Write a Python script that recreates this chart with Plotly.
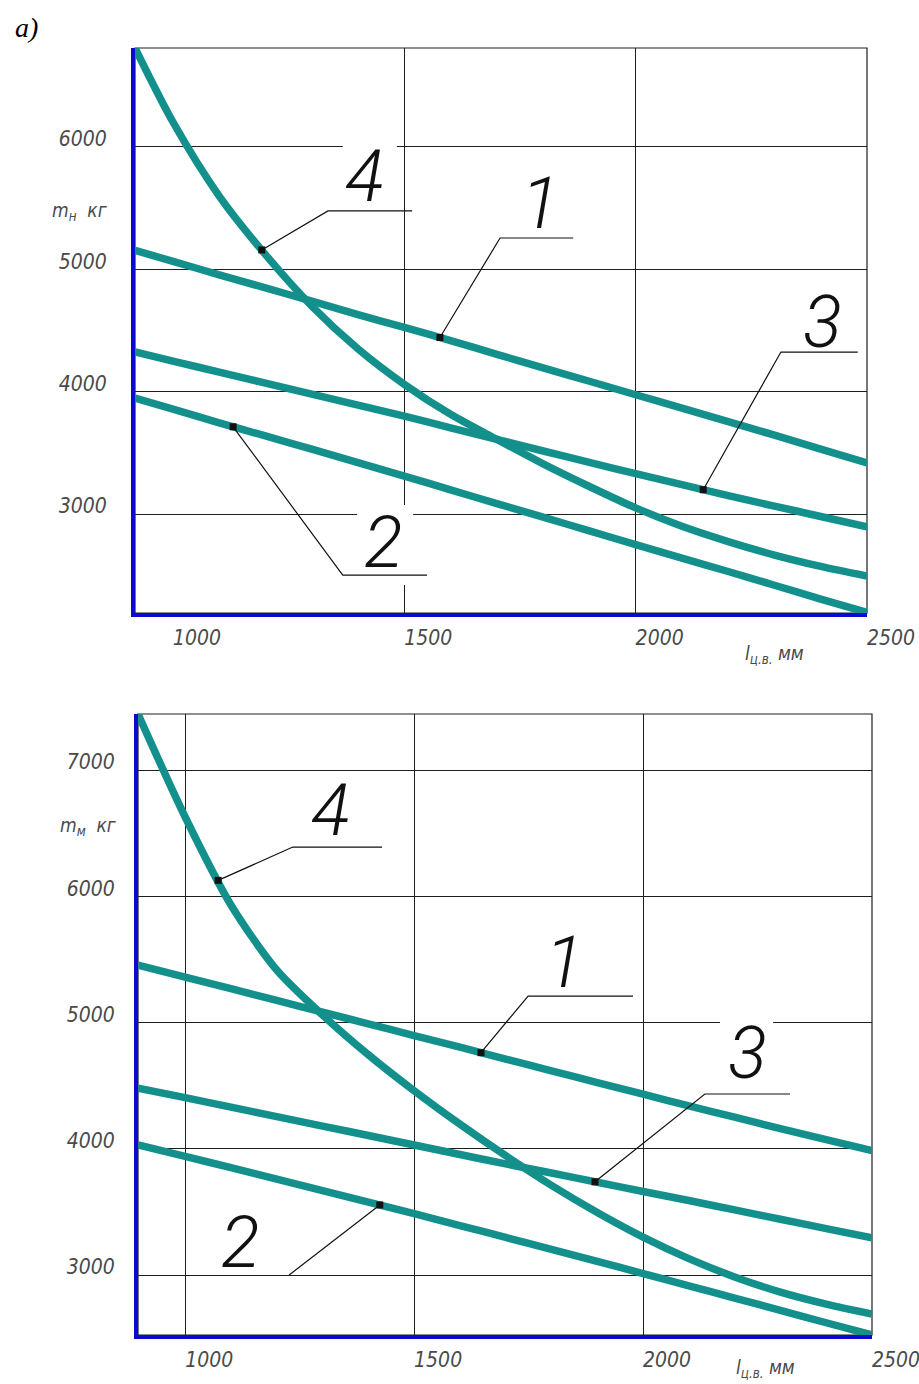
import plotly.graph_objects as go
import numpy as np

# ---------------- data ----------------
x_top = [918, 1000, 1100, 1200, 1300, 1400, 1500, 1600, 1700, 1800, 1900, 2000, 2100, 2200, 2300, 2400, 2500]
top_c1 = [5155, 5065, 4955, 4848, 4740, 4630, 4525, 4418, 4305, 4195, 4085, 3975, 3865, 3755, 3645, 3530, 3418]
top_c2 = [3948, 3858, 3745, 3638, 3530, 3420, 3310, 3198, 3085, 2975, 2862, 2750, 2640, 2530, 2418, 2305, 2195]
top_c3 = [4325, 4250, 4160, 4070, 3980, 3890, 3800, 3705, 3610, 3515, 3422, 3330, 3240, 3150, 3065, 2980, 2895]
top_c4 = [6809, 6204, 5599, 5120, 4700, 4350, 4060, 3815, 3610, 3410, 3225, 3050, 2900, 2775, 2665, 2572, 2493]

x_bot = [897, 1000, 1100, 1200, 1300, 1400, 1500, 1600, 1700, 1800, 1900, 2000, 2100, 2200, 2300, 2400, 2500]
bot_c1 = [5455, 5360, 5268, 5175, 5082, 4990, 4897, 4805, 4710, 4618, 4525, 4433, 4340, 4250, 4160, 4072, 3985]
bot_c2 = [4030, 3940, 3850, 3760, 3668, 3578, 3486, 3392, 3298, 3204, 3108, 3012, 2915, 2818, 2720, 2622, 2525]
bot_c3 = [4480, 4405, 4330, 4255, 4180, 4105, 4030, 3955, 3880, 3808, 3735, 3662, 3590, 3516, 3442, 3368, 3295]
bot_c4 = [7444, 6628, 5931, 5416, 5060, 4745, 4460, 4195, 3945, 3710, 3495, 3300, 3130, 2985, 2865, 2770, 2691]

curve_names = ["1", "2", "3", "4"]
x_ticks = [1000, 1500, 2000, 2500]
top_y_ticks = [3000, 4000, 5000, 6000]
bot_y_ticks = [3000, 4000, 5000, 6000, 7000]

# points on the curves where leaders start (x values)
top_marker_x = {"1": 1577, "2": 1130, "3": 2146, "4": 1192}
bot_marker_x = {"1": 1646, "2": 1425, "3": 1895, "4": 1072}

# ---------------- layout constants ----------------
TEAL = "#14908c"
BLUE = "#0a0ad0"
GRID = "#1e1e1e"
# body margin is removed by the post script, so the figure fills the window
OFF = 0
FW, FH = 919, 1384


def px(x):
    return (x - OFF) / FW


def py(y):
    return 1 - (y - OFF) / FH


# leader geometry (elbow x, elbow y, shelf end x) and label positions (data coords)
top_leaders = {"4": (1335, 5477, 1517), "1": (1707, 5256, 1865),
               "3": (2314, 4324, 2480), "2": (1367, 2501, 1549)}
top_label_pos = {"4": (1415, 5755), "1": (1795, 5542), "3": (2403, 4569), "2": (1454, 2771)}
bot_leaders = {"4": (1235, 6390, 1430), "1": (1749, 5210, 1978),
               "3": (2135, 4434, 2321), "2": (1227, 3000, 1227)}
bot_label_pos = {"4": (1318, 6683), "1": (1829, 5479), "3": (2229, 4751), "2": (1120, 3261)}

fig = go.Figure()

charts = [
    ("x", "y", x_top, [top_c1, top_c2, top_c3, top_c4], top_marker_x, top_leaders, top_label_pos),
    ("x2", "y2", x_bot, [bot_c1, bot_c2, bot_c3, bot_c4], bot_marker_x, bot_leaders, bot_label_pos),
]

shapes = []
annotations = []
for xa, ya, xs, curves, mk, leaders, lpos in charts:
    for name, ys in zip(curve_names, curves):
        fig.add_trace(go.Scatter(x=xs, y=ys, mode="lines",
                                 line=dict(color=TEAL, width=7.5, shape="spline", smoothing=0.8),
                                 xaxis=xa, yaxis=ya, showlegend=False, hoverinfo="skip"))
    mxs, mys = [], []
    for name, ys in zip(curve_names, curves):
        mx = mk[name]
        my = float(np.interp(mx, xs, ys))
        mxs.append(mx)
        mys.append(my)
        ex, ey, sx = leaders[name]
        shapes.append(dict(type="path", xref=xa, yref=ya, layer="above",
                           path=f"M {mx},{my} L {ex},{ey} L {sx},{ey}",
                           line=dict(color="#111111", width=1.2)))
        lx, ly = lpos[name]
        annotations.append(dict(x=lx, y=ly, xref=xa, yref=ya, text=name, showarrow=False,
                                xanchor="center", yanchor="middle",
                                font=dict(family="Roboto", size=72, color="#111111", style="italic", weight=300)))
    fig.add_trace(go.Scatter(x=mxs, y=mys, mode="markers",
                             marker=dict(symbol="square", size=7, color="#111111"),
                             xaxis=xa, yaxis=ya, showlegend=False, hoverinfo="skip"))
    shapes.append(dict(type="rect", xref=f"{xa} domain", yref=f"{ya} domain", x0=0, x1=1, y0=0, y1=1,
                       line=dict(color=GRID, width=1.2), layer="below"))

# white gaps in grid lines behind the labels
gaps = [("x", "y", 1367, 1484, 5930, 6070),
        ("x", "y", 1398, 1519, 2420, 3074),
        ("x2", "y2", 2168, 2284, 4950, 5050)]
for xa, ya, x0, x1, y0, y1 in gaps:
    shapes.append(dict(type="rect", xref=xa, yref=ya, x0=x0, x1=x1, y0=y0, y1=y1,
                       fillcolor="white", line=dict(width=0), layer="between"))

tickfont = dict(family="DejaVu Sans Condensed", size=21, color="#4a4a4a", style="italic")
titlefont = dict(family="DejaVu Sans Condensed", size=19, color="#4a4a4a", style="italic")

common_x = dict(showline=True, linecolor=BLUE, linewidth=4, showgrid=False, zeroline=False, automargin=False,
                ticks="", tickvals=x_ticks, tickfont=tickfont, ticklabelshift=24, ticklabelstandoff=3,
                ticklabeloverflow="allow")
common_y = dict(showline=True, linecolor=BLUE, linewidth=4, showgrid=True, gridcolor=GRID, gridwidth=1,
                zeroline=False, automargin=False, ticks="", tickfont=tickfont, ticklabelshift=-8,
                ticklabeloverflow="allow")

fig.update_layout(
    width=FW, height=FH, margin=dict(l=0, r=0, t=0, b=0, autoexpand=False),
    paper_bgcolor="white", plot_bgcolor="rgba(0,0,0,0)",
    xaxis=dict(domain=[px(135), px(867)], range=[918, 2500], anchor="y",
               minor=dict(tickvals=[1500, 2000], showgrid=True, gridcolor=GRID, gridwidth=1, ticks=""),
               **common_x),
    yaxis=dict(domain=[py(613), py(48)], range=[2191, 6809], anchor="x",
               tickvals=top_y_ticks, ticklabelstandoff=20, **common_y),
    xaxis2=dict(domain=[px(138), px(872)], range=[897, 2500], anchor="y2",
                minor=dict(tickvals=[1000, 1500, 2000], showgrid=True, gridcolor=GRID, gridwidth=1, ticks=""),
                **common_x),
    yaxis2=dict(domain=[py(1335), py(714)], range=[2525, 7444], anchor="x2",
                tickvals=bot_y_ticks, ticklabelstandoff=15, **common_y),
)

annotations += [
    dict(x=px(26), y=py(28), xref="paper", yref="paper", text="a)", showarrow=False,
         xanchor="center", yanchor="middle",
         font=dict(family="Liberation Serif", size=28, color="black", style="italic")),
    dict(x=px(80), y=py(212), xref="paper", yref="paper", text="m<sub>н</sub>  кг", showarrow=False,
         xanchor="center", yanchor="middle", font=titlefont),
    dict(x=px(88), y=py(826), xref="paper", yref="paper", text="m<sub>м</sub>  кг", showarrow=False,
         xanchor="center", yanchor="middle", font=titlefont),
    dict(x=px(774), y=py(654), xref="paper", yref="paper", text="l<sub>ц.в.</sub> мм", showarrow=False,
         xanchor="center", yanchor="middle", font=titlefont),
    dict(x=px(765), y=py(1368), xref="paper", yref="paper", text="l<sub>ц.в.</sub> мм", showarrow=False,
         xanchor="center", yanchor="middle", font=titlefont),
]

fig.update_layout(shapes=shapes, annotations=annotations)
fig.write_html("out.html", config={"displayModeBar": False},
               post_script="document.body.style.margin='0';document.body.style.overflow='hidden';")
